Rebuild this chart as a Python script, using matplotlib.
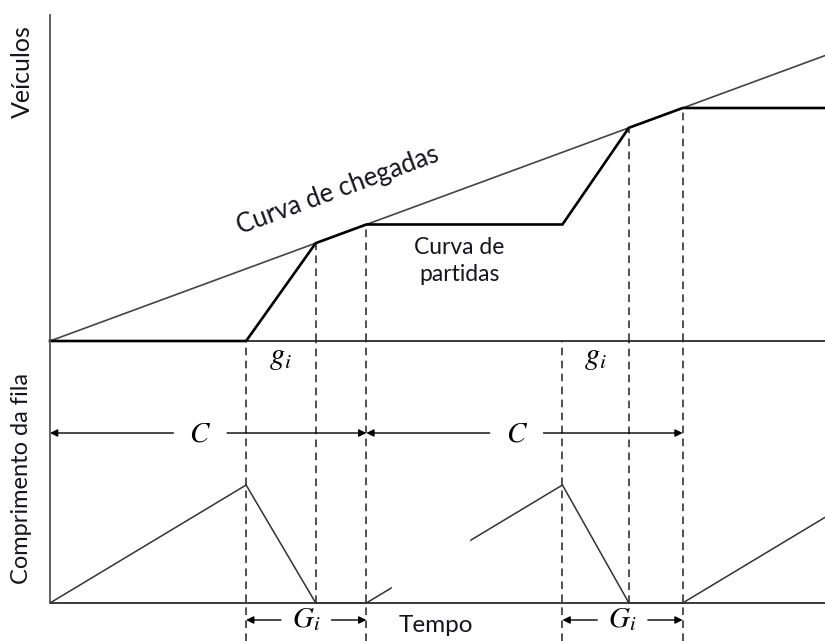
import matplotlib
matplotlib.use("Agg")
import matplotlib.pyplot as plt
from matplotlib.patches import Rectangle

plt.rcParams['font.family'] = ['Lato', 'DejaVu Sans']
plt.rcParams['mathtext.fontset'] = 'stix'

# tempos (unidades arbitrarias, ciclo C = 10)
red_end = [6.2, 16.2]      # inicio do verde
clear_t = [8.4, 18.3]      # fila dissipada
cycle_end = [10.0, 20.0]   # fim do ciclo
t_max = 24.5

# curvas acumuladas (veiculos)
arr_t = [0, t_max]
arr_n = [0, 24.5]
dep_t = [0, 6.2, 8.4, 10.0, 16.2, 18.3, 20.0, t_max]
dep_n = [0, 0, 8.4, 10.0, 10.0, 18.3, 20.0, 20.0]

# comprimento da fila
q_t = [0, 6.2, 8.4, 10.0, 16.2, 18.3, 20.0, t_max]
q_len = [0, 6.2, 0, 0, 6.2, 0, 0, 4.5]

W, H = 825, 641
fig = plt.figure(figsize=(W / 100, H / 100), dpi=100)
x0 = 50 / W
ax_top = fig.add_axes([x0, (H - 341) / H, 1 - x0, 341 / H])
ax_bot = fig.add_axes([x0, 0, 1 - x0, (H - 341) / H])
for ax in (ax_top, ax_bot):
    ax.set_xlim(0, t_max)
    ax.axis('off')
ax_top.set_ylim(0, 341 / 11.65)
ax_bot.set_ylim(-38 / 19.03, 262 / 19.03)
bot_lo, bot_hi = ax_bot.get_ylim()

axis_col = '#3a3a3a'
dash = (0, (5, 3.5))
txt_col = '#151520'

# painel superior
ax_top.plot([0, 0], [0, (341 - 15) / 11.65], color='#555555', lw=1.3, clip_on=False)
ax_top.plot([0, t_max], [0, 0], color=axis_col, lw=1.4, clip_on=False)
ax_top.plot(arr_t, arr_n, color='#444444', lw=1.2, clip_on=False)
ax_top.plot(dep_t, dep_n, color='black', lw=1.9, solid_joinstyle='miter', clip_on=False)
for t in clear_t + cycle_end:
    n = dep_n[dep_t.index(t)]
    ax_top.plot([t, t], [0, n], color='#222222', lw=1.1, linestyle=dash)

ax_top.text(9.1, (341 - 190) / 11.65, 'Curva de chegadas', fontsize=18.5,
            rotation=20.2, rotation_mode='anchor', ha='center', va='center',
            color=txt_col)
ax_top.text(12.95, (341 - 261) / 11.65, 'Curva de\npartidas', fontsize=16.5,
            ha='center', va='center', linespacing=1.35, color=txt_col)
fig.text(22 / W, 1 - 72 / H, 'Veículos', fontsize=18, rotation=90,
         ha='center', va='center', color=txt_col)

# painel inferior
ax_bot.plot([0, 0], [0, bot_hi], color='#555555', lw=1.3, clip_on=False)
ax_bot.plot([0, t_max], [0, 0], color=axis_col, lw=1.4)
ax_bot.plot(q_t, q_len, color='#333333', lw=1.1)
ax_bot.add_patch(Rectangle((10.8, 0.6), 2.45, 2.9, color='white', zorder=3))
for t in red_end + cycle_end:
    ax_bot.plot([t, t], [bot_lo, bot_hi], color='#222222', lw=1.1, linestyle=dash)
for t in clear_t:
    ax_bot.plot([t, t], [0, bot_hi], color='#222222', lw=1.1, linestyle=dash)

fig.text(22 / W, 1 - 478 / H, 'Comprimento da fila', fontsize=17, rotation=90,
         ha='center', va='center', color=txt_col)
ax_bot.text(12.2, (603 - 625) / 19.03, 'Tempo', fontsize=17.5, ha='center',
            va='center', color=txt_col)


def dim_arrow(ax, a, b, y, label, mid, gap):
    ap = dict(arrowstyle='-|>', color='black', lw=1.0, shrinkA=0, shrinkB=0,
              mutation_scale=11)
    ax.annotate('', xy=(a, y), xytext=(mid - gap, y), arrowprops=ap)
    ax.annotate('', xy=(b, y), xytext=(mid + gap, y), arrowprops=ap)
    ax.text(mid, y, label, fontsize=21, ha='center', va='center')


c_y = (603 - 433) / 19.03
g_y = (603 - 620) / 19.03
starts = [0] + cycle_end[:-1]
for s, r, c, e in zip(starts, red_end, clear_t, cycle_end):
    dim_arrow(ax_bot, s, e, c_y, r'$C$', s + 4.75, 0.85)
    dim_arrow(ax_bot, r, e, g_y, r'$G_i$', (r + e) / 2, 0.8)
    ax_bot.text((r + c) / 2, (603 - 358) / 19.03, r'$g_i$', fontsize=22,
                ha='center', va='center')

fig.savefig('out.png', dpi=100)
